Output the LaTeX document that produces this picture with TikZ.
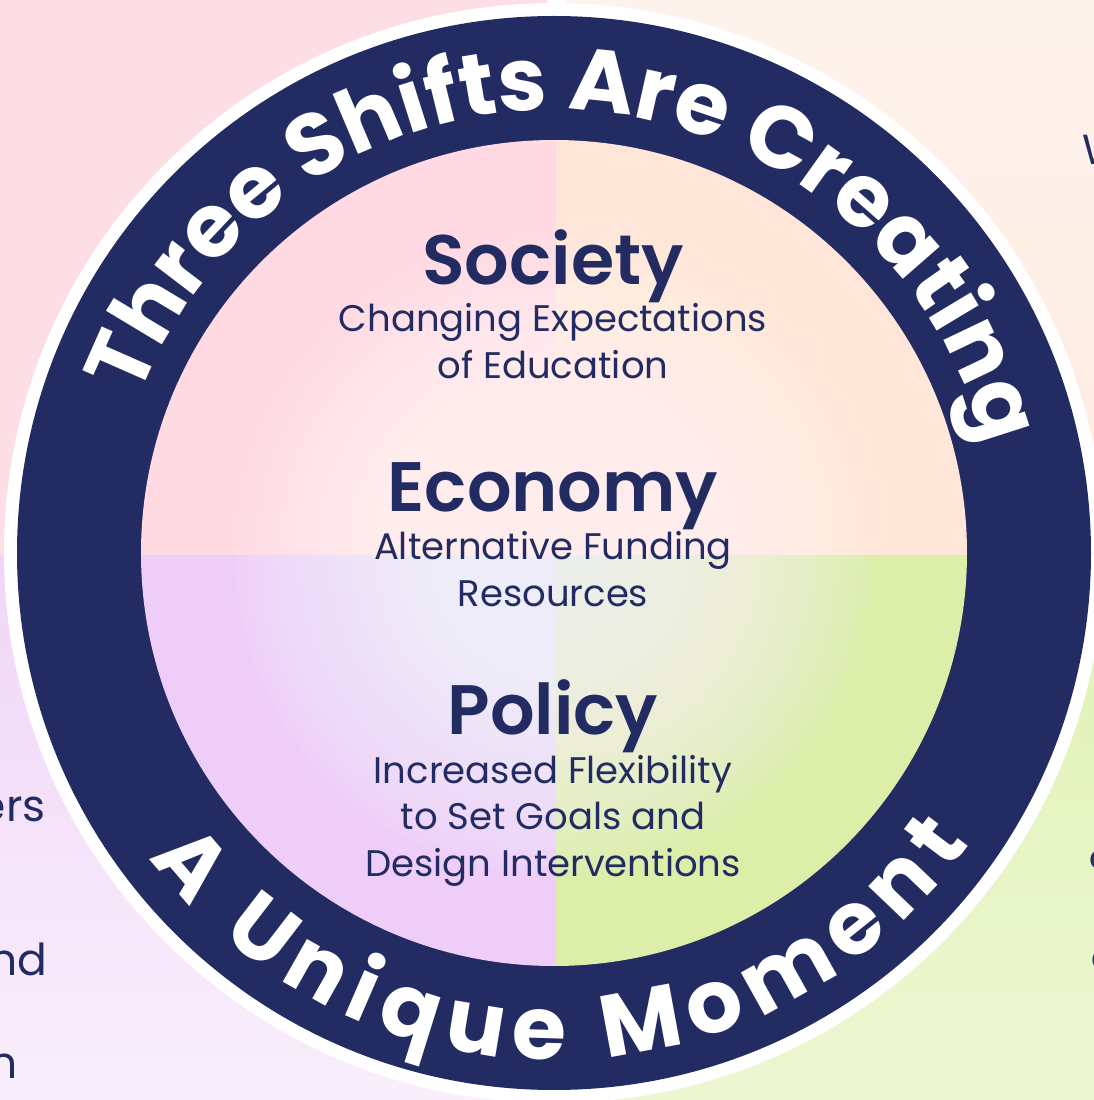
\documentclass[tikz,border=0pt]{standalone}
\usepackage{fontspec}
\setmainfont{Poppins}
\newfontfamily\headfont{Poppins SemiBold}
\usepackage{tikz}
\usetikzlibrary{decorations.text}

\definecolor{navy}{RGB}{35,44,98}
\definecolor{pinkq}{RGB}{255,218,226}
\definecolor{peachq}{RGB}{255,230,217}
\definecolor{lilacq}{RGB}{238,206,248}
\definecolor{greenq}{RGB}{220,238,168}
\definecolor{pinkbg}{RGB}{253,222,229}
\definecolor{peachbg}{RGB}{254,235,224}
\definecolor{lilacbg}{RGB}{240,214,247}
\definecolor{greenbg}{RGB}{224,241,180}

\tikzset{
  heading/.style = {anchor=base, inner sep=0pt, text=navy, font=\headfont\fontsize{35}{35}\selectfont},
  subline/.style = {anchor=base, inner sep=0pt, text=navy, align=center, font=\fontsize{18.5}{23.5}\selectfont},
  edgetext/.style = {inner sep=0pt, text=navy, font=\fontsize{22}{22}\selectfont},
}

\begin{document}
\begin{tikzpicture}[x=0.5pt, y=0.5pt]
\useasboundingbox (0,0) rectangle (1094,1100);
\coordinate (c) at (554,547);

\begin{scope}
\clip (0,0) rectangle (1094,1100);
\shade[top color=pinkbg, bottom color=pinkbg] (0,545) rectangle (556,1100);
\shade[top color=peachbg!60!white, bottom color=peachbg] (556,545) rectangle (1094,1100);
\shade[top color=lilacbg, bottom color=lilacbg!40!white] (0,0) rectangle (556,545);
\shade[top color=greenbg, bottom color=greenbg!60!white] (556,0) rectangle (1094,545);

\node[edgetext, anchor=base west, font=\fontsize{21}{21}\selectfont] (cutW) at (1082,935) {W};
\node[edgetext, anchor=base east] (cutErs) at (46,278) {ers};
\node[edgetext, anchor=base east] (cutNd) at (48,125) {nd};
\node[edgetext, anchor=base east] (cutN) at (18,22) {n};
\node[edgetext, anchor=base west, font=\fontsize{17}{17}\selectfont] (cutE) at (1089,230) {e};
\node[edgetext, anchor=base west, font=\fontsize{17}{17}\selectfont] (cutC) at (1091,130) {e};
\end{scope}

\fill[white] (547,1080) rectangle (565,1100);
\fill[white] (c) circle (550);
\fill[navy] (c) circle (537);

\begin{scope}
\clip (c) circle (413);
\fill[pinkq] (556,545) rectangle (100,1000);
\fill[peachq] (556,545) rectangle (1000,1000);
\fill[lilacq] (556,545) rectangle (100,100);
\fill[greenq] (556,545) rectangle (1000,100);
\foreach \r in {8,16,...,320}
  \fill[white, opacity=0.05] (556,545) circle (\r);
\end{scope}

\path[decorate, decoration={text along path, text color=white, text align={fit to path},
  text={|\bfseries\fontsize{44}{44}\selectfont|Three Shifts Are Creating}}]
  (c) ++(159.5:443) arc[start angle=159.5, end angle=16, radius=443];
\path[decorate, decoration={text along path, text color=white, text align={fit to path},
  text={|\bfseries\fontsize{44}{44}\selectfont|A Unique Moment}}]
  (c) ++(217:507) arc[start angle=217, end angle=325, radius=507];

\node[heading] (society) at (553,815) {Society};
\node[subline] (societysub) at (553,721) {Changing Expectations\\of Education};
\node[heading] (economy) at (553,588) {Economy};
\node[subline] (economysub) at (553,493) {Alternative Funding\\Resources};
\node[heading] (policy) at (553,365) {Policy};
\node[subline] (policysub) at (553,223) {Increased Flexibility\\to Set Goals and\\Design Interventions};

\end{tikzpicture}
\end{document}
